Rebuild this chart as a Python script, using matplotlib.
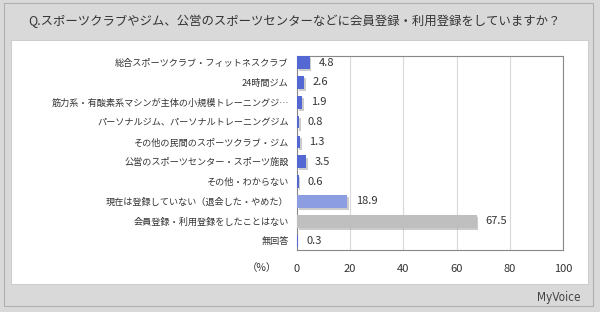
import matplotlib
matplotlib.use("Agg")
import matplotlib.pyplot as plt
from matplotlib.patches import Rectangle
import matplotlib.patheffects as pe

plt.rcParams['font.family'] = ['Noto Sans CJK JP', 'DejaVu Sans']

title = "Q.スポーツクラブやジム、公営のスポーツセンターなどに会員登録・利用登録をしていますか？"
categories = [
    "総合スポーツクラブ・フィットネスクラブ",
    "24時間ジム",
    "筋力系・有酸素系マシンが主体の小規模トレーニングジ…",
    "パーソナルジム、パーソナルトレーニングジム",
    "その他の民間のスポーツクラブ・ジム",
    "公営のスポーツセンター・スポーツ施設",
    "その他・わからない",
    "現在は登録していない（退会した・やめた）",
    "会員登録・利用登録をしたことはない",
    "無回答",
]
values = [4.8, 2.6, 1.9, 0.8, 1.3, 3.5, 0.6, 18.9, 67.5, 0.3]
colors = ["#5468d4"] * 7 + ["#8c9de2", "#bfbfbf", "#5468d4"]
xticks = [0, 20, 40, 60, 80, 100]

fig = plt.figure(figsize=(6.0, 3.12), dpi=100)
fig.patch.set_facecolor("#d9d9d9")

# outer frame and inner white panel
fig.add_artist(Rectangle((4/600, 1-306/312), 589/600, 303/312, transform=fig.transFigure,
                         facecolor="#d9d9d9", edgecolor="#b0b0b0", linewidth=0.8, zorder=-10))
fig.add_artist(Rectangle((11/600, 1-284/312), 577/600, 244/312, transform=fig.transFigure,
                         facecolor="white", edgecolor="#c8c8c8", linewidth=0.6, zorder=-9))

fig.text(0.49, 1-21/312, title, ha="center", va="center", fontsize=8.9, color="#333333")

ax = fig.add_axes([297/600, 1-250/312, 266/600, 194.3/312])
ax.set_zorder(5)
ax.set_facecolor("none")
y = list(range(len(categories)))
bars = ax.barh(y, values, height=0.64, color=colors, zorder=3,
               path_effects=[pe.SimplePatchShadow(offset=(1.2, -1.5), shadow_rgbFace="#999999", alpha=0.5),
                             pe.Normal()])
ax.set_xlim(0, 100)
ax.set_ylim(9.45, -0.35)
ax.set_xticks(xticks)
ax.set_xticklabels([str(t) for t in xticks], fontsize=8, color="#333333")
ax.set_yticks(y)
ax.set_yticklabels(categories, fontsize=6.6, color="#333333")
ax.tick_params(axis="both", length=0, pad=6)
ax.tick_params(axis="x", pad=10)
ax.xaxis.grid(True, color="#d9d9d9", linewidth=0.8, zorder=0)
for s in ax.spines.values():
    s.set_color("#888888")
    s.set_linewidth(0.8)

for yi, v in zip(y, values):
    ax.text(v + 3.3, yi, f"{v:.1f}", va="center", ha="left", fontsize=8, color="#333333")

fig.text(262/600, 1-268/312, "（%）", ha="center", va="center", fontsize=7.5, color="#333333")
fig.text(581/600, 1-297/312, "MyVoice", ha="right", va="center", fontsize=8.5,
         color="#444444", family=["DejaVu Sans"], fontstretch="condensed")

fig.savefig("out.png", dpi=100, facecolor=fig.get_facecolor())
